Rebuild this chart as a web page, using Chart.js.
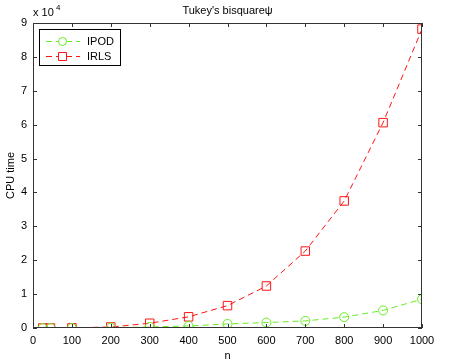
<!DOCTYPE html>
<html>
<head>
<meta charset="utf-8">
<script src="https://cdn.jsdelivr.net/npm/chart.js@4/dist/chart.umd.min.js"></script>
<style>
  body { margin: 0; background: #fff; }
  canvas { display: block; }
</style>
</head>
<body>
<canvas id="graph1" width="457" height="364"></canvas>
<script>
// problem size
const nValues = [25, 45, 100, 200, 300, 400, 500, 600, 700, 800, 900, 1000];
// CPU time
const ipodTime = [0, 0, 0, 100, 300, 600, 1200, 1600, 2100, 3200, 5200, 8500];
const irlsTime = [0, 0, 50, 300, 1400, 3300, 6600, 12400, 22700, 37500, 60600, 88200];
const yTicks = [0, 1, 2, 3, 4, 5, 6, 7, 8, 9];

const greenCol = 'rgb(102, 236, 34)';
const redCol = 'rgb(255, 20, 20)';
const axisCol = '#333';
const font = 'Liberation Sans, Arial, sans-serif';

function toPoints(ys) {
    return nValues.map((n, i) => ({ x: n, y: ys[i] }));
}

// frame, inward ticks, title, exponent label and legend (MATLAB look)
const matlabLook = {
    id: 'matlabLook',
    afterDraw(chart) {
        const ctx = chart.ctx;
        const a = chart.chartArea;
        const xs = chart.scales.x, ys = chart.scales.y;
        ctx.save();
        ctx.strokeStyle = axisCol;
        ctx.lineWidth = 1;
        ctx.strokeRect(Math.round(a.left) + 0.5, Math.round(a.top) + 0.5,
            Math.round(a.right - a.left) - 1, Math.round(a.bottom - a.top) - 1);
        ctx.beginPath();
        for (let v = 0; v <= 1000; v += 100) {
            const px = Math.round(xs.getPixelForValue(v)) + 0.5;
            ctx.moveTo(px, a.bottom); ctx.lineTo(px, a.bottom - 4);
            ctx.moveTo(px, a.top); ctx.lineTo(px, a.top + 4);
        }
        for (const t of yTicks) {
            const py = Math.round(ys.getPixelForValue(t * 10000)) + 0.5;
            ctx.moveTo(a.left, py); ctx.lineTo(a.left + 4, py);
            ctx.moveTo(a.right, py); ctx.lineTo(a.right - 4, py);
        }
        ctx.stroke();

        ctx.fillStyle = '#000';
        ctx.font = '11px ' + font;
        ctx.textAlign = 'center';
        ctx.textBaseline = 'middle';
        ctx.fillText("Tukey's bisquareψ", (a.left + a.right) / 2, 11);

        ctx.textAlign = 'left';
        ctx.fillText('x 10', 33, 13);
        ctx.font = '8px ' + font;
        ctx.fillText('4', 56, 8);

        // legend
        ctx.fillStyle = '#fff';
        ctx.fillRect(39, 29, 81, 36);
        ctx.strokeStyle = '#000';
        ctx.strokeRect(39.5, 29.5, 81, 36);
        const items = [
            { label: 'IPOD', col: greenCol, shape: 'circle', y: 41 },
            { label: 'IRLS', col: redCol, shape: 'rect', y: 56 }
        ];
        for (const it of items) {
            ctx.strokeStyle = it.col;
            ctx.setLineDash([6, 4]);
            ctx.beginPath();
            ctx.moveTo(46, it.y + 0.5); ctx.lineTo(80, it.y + 0.5);
            ctx.stroke();
            ctx.setLineDash([]);
            ctx.fillStyle = '#fff';
            ctx.beginPath();
            if (it.shape === 'circle') {
                ctx.arc(62.5, it.y + 0.5, 4, 0, Math.PI * 2);
            } else {
                ctx.rect(58.5, it.y - 3.5, 8, 8);
            }
            ctx.fill();
            ctx.stroke();
            ctx.fillStyle = '#000';
            ctx.font = '11px ' + font;
            ctx.fillText(it.label, 87, it.y + 1);
        }
        ctx.restore();
    }
};

const config = {
    type: 'line',
    data: {
        datasets: [
            {
                label: 'IPOD',
                data: toPoints(ipodTime),
                borderColor: greenCol,
                backgroundColor: 'rgba(0,0,0,0)',
                borderWidth: 1,
                borderDash: [6, 4],
                pointStyle: 'circle',
                pointRadius: 4.5,
                pointBorderWidth: 1,
                pointBorderColor: greenCol,
                pointBackgroundColor: 'rgba(0,0,0,0)',
                tension: 0
            },
            {
                label: 'IRLS',
                data: toPoints(irlsTime),
                borderColor: redCol,
                backgroundColor: 'rgba(0,0,0,0)',
                borderWidth: 1,
                borderDash: [6, 4],
                pointStyle: 'rect',
                pointRadius: 6,
                pointBorderWidth: 1,
                pointBorderColor: redCol,
                pointBackgroundColor: 'rgba(0,0,0,0)',
                tension: 0
            }
        ]
    },
    options: {
        responsive: false,
        animation: false,
        layout: { padding: { top: 23, right: 35, left: 0, bottom: 0 } },
        plugins: {
            legend: { display: false },
            title: { display: false },
            tooltip: { enabled: false }
        },
        scales: {
            x: {
                type: 'linear',
                min: 0,
                max: 1000,
                grid: { display: false, drawTicks: false },
                border: { display: false },
                ticks: {
                    stepSize: 100,
                    color: '#000',
                    padding: 6,
                    maxRotation: 0,
                    font: { family: font, size: 11 },
                    callback: (value) => String(value)
                },
                title: {
                    display: true,
                    text: 'n',
                    color: '#000',
                    padding: { top: 0, bottom: 1 },
                    font: { family: font, size: 11 }
                },
                afterFit: (scale) => { scale.height = 36; }
            },
            y: {
                min: 0,
                max: 90000,
                grid: { display: false, drawTicks: false },
                border: { display: false },
                ticks: {
                    stepSize: 10000,
                    color: '#000',
                    padding: 6,
                    font: { family: font, size: 11 },
                    callback: (value) => value / 10000
                },
                title: {
                    display: true,
                    text: 'CPU time',
                    color: '#000',
                    padding: { top: 4, bottom: 0 },
                    font: { family: font, size: 11 }
                },
                afterFit: (scale) => { scale.width = 33; }
            }
        }
    },
    plugins: [matlabLook]
};

const myChart = new Chart(document.getElementById('graph1'), config);
</script>
</body>
</html>
